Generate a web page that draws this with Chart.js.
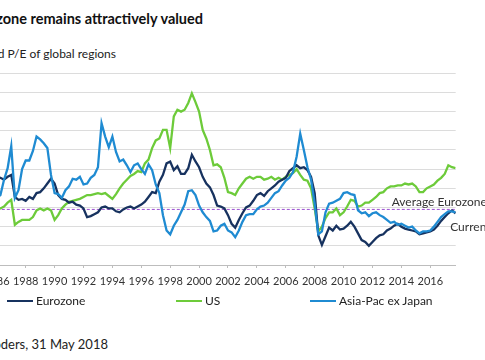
<!DOCTYPE html>
<html>
<head>
<meta charset="utf-8">
<script src="https://cdn.jsdelivr.net/npm/chart.js@4"></script>
<style>
  html, body { margin: 0; padding: 0; background: #fff; }
  body { width: 485px; height: 360px; position: relative; overflow: hidden; font-family: Lato, "Open Sans", sans-serif; color: #222; }
  .txt { position: absolute; white-space: nowrap; }
  #title { right: 282px; top: 10px; font-weight: bold; font-size: 14.5px; line-height: 18px; color: #111; }
  #subtitle { right: 369px; top: 46px; font-size: 12px; line-height: 16px; }
  #source { right: 377px; top: 336px; font-size: 13px; line-height: 16px; }
  #chart { position: absolute; left: -40px; top: 0; }
  .legend { position: absolute; top: 293px; height: 16px; font-size: 12px; line-height: 16px; white-space: nowrap; }
  .legend i { display: inline-block; width: 26px; height: 2px; vertical-align: middle; margin-right: 3px; position: relative; top: -1px; }
</style>
</head>
<body>
<div id="title" class="txt">Eurozone remains attractively valued</div>
<div id="subtitle" class="txt">Forward P/E of global regions</div>
<canvas id="chart" width="540" height="300"></canvas>
<div class="legend" style="left:7px"><i style="background:#17325f"></i>Eurozone</div>
<div class="legend" style="left:176px"><i style="background:#6dcb3a"></i>US</div>
<div class="legend" style="left:310px"><i style="background:#1f8bd2"></i>Asia-Pac ex Japan</div>
<div id="source" class="txt">Source: Schroders, 31 May 2018</div>
<script>
// Quarterly forward P/E readings, first quarter of 1986 onwards
const startYear = 1986;
const eurozone = [17.2, 17.1, 16.9, 17.2, 17.4, 15.1, 14.8, 14.9, 14.7, 15.1, 14.9, 15.5, 15.6, 16.0, 16.5, 17.0, 16.5, 15.3, 14.9, 14.8, 14.5, 14.6, 14.3, 14.2, 13.9, 13.0, 13.1, 13.3, 13.5, 14.0, 14.1, 13.9, 13.9, 13.6, 13.5, 13.8, 14.0, 14.1, 13.9, 14.1, 14.3, 14.6, 15.1, 15.6,
  15.5, 16.7, 17.4, 18.6, 18.8, 17.9, 18.3, 17.5, 17.5, 18.1, 19.5, 18.8, 18.2, 17.2, 16.5, 16.1, 15.3, 14.2, 14.1, 13.9, 13.2, 12.3, 11.9, 12.7, 13.4, 14.0, 14.2, 14.7, 15.3, 15.5, 15.2, 15.7, 16.0, 16.3, 16.7, 16.9, 17.1, 17.8, 18.1, 18.4, 18.1, 18.2,
  17.9, 17.2, 15.5, 11.1, 10.1, 11.0, 11.9, 11.6, 12.1, 11.7, 11.8, 12.1, 12.5, 12.0, 11.3, 10.6, 10.4, 10.0, 10.4, 10.8, 11.1, 11.2, 11.6, 11.8, 12.1, 12.3, 12.0, 11.8, 11.7, 11.6, 11.5, 11.2, 11.3, 11.4, 11.5, 11.7, 12.1, 12.6, 13.0, 13.4, 13.7, 13.4];
const us = [13.8, 13.9, 14.1, 14.5, 14.8, 12.2, 12.5, 12.7, 12.7, 12.7, 13.0, 13.7, 13.9, 13.7, 13.9, 13.7, 12.7, 13.2, 13.9, 14.3, 14.6, 14.7, 14.8, 14.9, 15.1, 15.3, 15.3, 15.4, 15.5, 15.4, 15.5, 15.2, 14.9, 15.4, 16.0, 16.5, 16.9, 17.3, 17.5, 17.8, 17.7, 18.6, 19.0, 20.2,
  21.0, 21.2, 22.1, 22.1, 20.2, 23.5, 24.2, 24.0, 24.2, 24.9, 25.9, 25.0, 24.0, 22.1, 21.2, 20.0, 18.4, 18.5, 18.2, 17.1, 15.6, 15.5, 15.3, 16.0, 16.5, 17.0, 17.2, 17.0, 17.2, 17.2, 16.9, 17.0, 17.2, 16.9, 17.1, 16.9, 17.2, 17.4, 17.6, 18.0, 17.4, 16.9,
  16.8, 16.0, 13.9, 11.5, 12.0, 12.9, 13.5, 13.5, 13.9, 13.2, 13.5, 14.1, 14.8, 14.7, 14.1, 14.2, 14.5, 14.5, 14.8, 15.1, 15.5, 15.6, 16.0, 16.2, 16.2, 16.3, 16.3, 16.5, 16.4, 16.5, 16.2, 15.6, 15.6, 16.0, 16.2, 16.4, 16.8, 17.1, 17.5, 18.4, 18.2, 18.1];
const asiaPac = [15.0, 15.3, 16.9, 18.1, 20.4, 15.0, 15.8, 18.0, 18.9, 18.9, 19.9, 21.4, 21.1, 20.7, 20.2, 17.4, 15.5, 15.4, 15.0, 15.8, 16.2, 17.0, 16.9, 17.2, 16.4, 16.5, 17.1, 17.4, 18.2, 22.8, 21.4, 20.3, 21.4, 19.8, 18.8, 19.0, 18.4, 17.7, 18.4, 18.6, 18.0, 17.5, 18.5, 17.9,
  16.4, 15.5, 13.2, 11.6, 11.2, 12.1, 12.7, 13.5, 14.3, 15.7, 15.8, 15.3, 14.2, 13.5, 13.0, 12.6, 11.5, 11.6, 12.1, 12.3, 11.6, 11.4, 10.9, 11.6, 12.5, 13.2, 13.3, 13.3, 13.8, 14.1, 14.2, 14.5, 15.0, 15.5, 15.7, 16.3, 16.8, 17.1, 17.7, 19.3, 21.7, 20.0,
  18.2, 16.9, 14.4, 11.2, 11.5, 13.5, 14.4, 14.5, 14.7, 14.9, 15.5, 15.6, 15.4, 15.3, 13.7, 13.4, 13.5, 13.1, 13.4, 13.5, 13.2, 13.0, 12.7, 12.4, 12.5, 12.2, 12.3, 12.1, 11.9, 12.0, 11.6, 11.3, 11.5, 11.5, 11.6, 12.0, 12.5, 13.0, 13.3, 13.6, 13.6, 13.5];
const eurozoneAverage = 13.8;
const yearTicks = [1986, 1988, 1990, 1992, 1994, 1996, 1998, 2000, 2002, 2004, 2006, 2008, 2010, 2012, 2014, 2016];

const quarters = eurozone.map((v, i) => startYear + i / 4);
const pts = arr => arr.map((v, i) => ({ x: quarters[i], y: v }));
const last = quarters[quarters.length - 1];

const labelsPlugin = {
    id: 'labels',
    afterDatasetsDraw(chart) {
        const ctx = chart.ctx;
        const right = chart.chartArea.right;
        const y = chart.scales.y;
        ctx.save();
        ctx.font = '12px Lato';
        ctx.fillStyle = '#333';
        ctx.textBaseline = 'middle';
        ctx.fillText('Average Eurozone', right - 64, y.getPixelForValue(eurozoneAverage) - 7.7);
        ctx.fillText('Current', right - 5.5, y.getPixelForValue(eurozone[eurozone.length - 1]) + 14);
        ctx.restore();
    }
};

new Chart(document.getElementById('chart').getContext('2d'), {
    type: 'line',
    data: {
        datasets: [
            { label: 'Asia-Pac ex Japan', data: pts(asiaPac), borderColor: '#1f8bd2', borderWidth: 2.3, pointRadius: 0, tension: 0 },
            { label: 'Eurozone', data: pts(eurozone), borderColor: '#17325f', borderWidth: 2.3, pointRadius: 0, tension: 0 },
            { label: 'US', data: pts(us), borderColor: '#6dcb3a', borderWidth: 2.3, pointRadius: 0, tension: 0 },
            { label: 'Average', data: [{ x: startYear, y: eurozoneAverage }, { x: last, y: eurozoneAverage }], borderColor: '#9b4fd1', borderWidth: 1, borderDash: [3, 2], pointRadius: 0 }
        ]
    },
    options: {
        responsive: false,
        animation: false,
        devicePixelRatio: 1,
        layout: { padding: { left: 36.8, right: 44.3, top: 73.3, bottom: 5 } },
        plugins: { legend: { display: false }, tooltip: { enabled: false } },
        scales: {
            x: {
                type: 'linear',
                min: startYear,
                max: 2017.76,
                afterBuildTicks: scale => { scale.ticks = yearTicks.map(v => ({ value: v })); },
                afterFit: scale => { scale.height = 30; },
                ticks: { callback: v => String(v), font: { family: 'Lato', size: 11 }, color: '#333', padding: 7, maxRotation: 0, autoSkip: false },
                grid: { drawOnChartArea: false, drawTicks: true, tickLength: 3, color: '#bdbdbd' },
                border: { display: true, color: '#bdbdbd', width: 1 }
            },
            y: {
                min: 8,
                max: 28,
                afterFit: scale => { scale.width = 0; },
                ticks: { display: false, stepSize: 2 },
                grid: { color: '#dcdcdc', drawTicks: false },
                border: { display: false }
            }
        }
    },
    plugins: [labelsPlugin]
});
</script>
</body>
</html>
